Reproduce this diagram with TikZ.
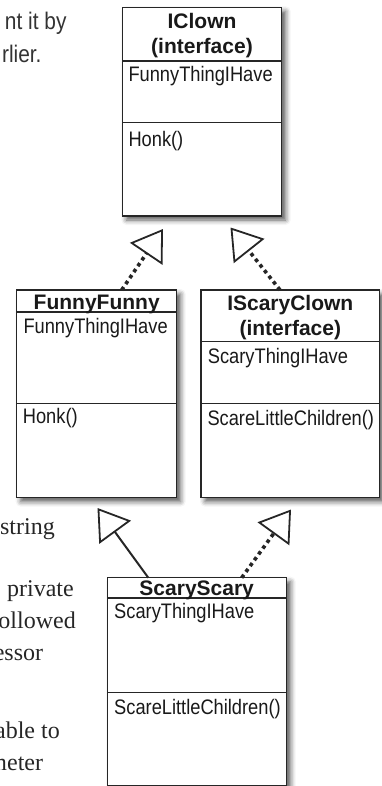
\documentclass[tikz,border=0pt]{standalone}
\usepackage{fontspec}
\setmainfont{Liberation Serif}
\newfontfamily\umlsans{Liberation Sans}
\newfontfamily\umlnarrow[FakeStretch=0.87]{Liberation Sans}
\usetikzlibrary{arrows.meta,shadows.blur}

\begin{document}
\begin{tikzpicture}[x=1pt, y=-1pt,
  umlbox/.style={rectangle, draw=black!85, line width=1.2pt, fill=white,
             anchor=north west, inner sep=0pt, outer sep=0pt,
             blur shadow={shadow xshift=4pt, shadow yshift=-4pt,
                          shadow blur radius=5pt, shadow opacity=65}},
  divline/.style={draw=black!85, line width=1.3pt},
  ttldiv/.style={draw=black!85, line width=1.7pt},
  ttl/.style={font=\umlsans\bfseries\fontsize{21}{25}\selectfont, align=center,
             inner sep=0pt, text=black!90},
  mbr/.style={font=\umlnarrow\fontsize{21}{24}\selectfont, anchor=base west,
             inner sep=0pt, text=black!90},
  sansfrag/.style={font=\umlnarrow\fontsize{24}{30}\selectfont, anchor=base east,
             inner sep=0pt, text=black!80},
  seriffrag/.style={font=\fontsize{24}{31}\selectfont, anchor=base east,
             inner sep=0pt, text=black!85},
  realize/.style={line width=3.6pt, black!85, dash pattern=on 3.6pt off 3.6pt,
             -{Triangle[open, length=30pt, width=39pt, line width=1.8pt]}},
  inherit/.style={line width=2pt, black!85,
             -{Triangle[open, length=30pt, width=39pt, line width=1.8pt]}},
]
\useasboundingbox (0,0) rectangle (381,786);

% text cut off at the page edge
\node[sansfrag] (txtby)    at (66.7,29.3)  {nt it by};
\node[sansfrag] (txtlier)  at (41.7,62.7)  {rlier.};
\node[seriffrag] (txtstr)  at (55,534)     {string};
\node[seriffrag] (txtpriv) at (74,596.7)   {private};
\node[seriffrag] (txtfoll) at (76,628.3)   {ollowed};
\node[seriffrag] (txtess)  at (43.3,660)   {essor};
\node[seriffrag] (txtable) at (60,738.3)   {able to};
\node[seriffrag] (txtmet)  at (43.3,770)   {meter};

% class boxes
\node[umlbox, minimum width=159.4pt, minimum height=208.7pt] (iclown) at (122.3,7.3)  {};
\node[umlbox, minimum width=160pt,   minimum height=207.7pt] (funny)  at (16.7,290)   {};
\node[umlbox, minimum width=178.3pt, minimum height=207.7pt] (iscary) at (201,290)    {};
\node[umlbox, minimum width=179.4pt, minimum height=208pt]   (scary)  at (107.3,577.7) {};

% compartments
\draw[divline] (iclown.west |- 0,61)    -- (iclown.east |- 0,61);
\draw[divline] (iclown.west |- 0,122.7) -- (iclown.east |- 0,122.7);
\draw[ttldiv]  (funny.west |- 0,311.7)  -- (funny.east |- 0,311.7);
\draw[divline] (funny.west |- 0,403.3)  -- (funny.east |- 0,403.3);
\draw[divline] (iscary.west |- 0,341.7) -- (iscary.east |- 0,341.7);
\draw[divline] (iscary.west |- 0,403.3) -- (iscary.east |- 0,403.3);
\draw[ttldiv]  (scary.west |- 0,598.3)  -- (scary.east |- 0,598.3);
\draw[divline] (scary.west |- 0,692.3)  -- (scary.east |- 0,692.3);

% titles
\node[ttl, anchor=north] (iclownttl) at (202,13)      {IClown\\(interface)};
\node[ttl, anchor=base]  (funnyttl)  at (96.7,309.3)  {FunnyFunny};
\node[ttl, anchor=north] (iscaryttl) at (290.3,294.7) {IScaryClown\\(interface)};
\node[ttl, anchor=base]  (scaryttl)  at (196.7,595.7) {ScaryScary};

% members
\node[mbr] (iclownattr) at (128.3,81.7)  {FunnyThingIHave};
\node[mbr] (iclownmeth) at (128.3,146.7) {Honk()};
\node[mbr] (funnyattr)  at (23.3,333.3)  {FunnyThingIHave};
\node[mbr] (funnymeth)  at (22.7,423.3)  {Honk()};
\node[mbr] (iscaryattr) at (207.7,363.3) {ScaryThingIHave};
\node[mbr] (iscarymeth) at (207.3,425)   {ScareLittleChildren()};
\node[mbr] (scaryattr)  at (114,618.3)   {ScaryThingIHave};
\node[mbr] (scarymeth)  at (114,714.3)   {ScareLittleChildren()};

% arrow tips
\coordinate (tipfunny)  at (163,229);
\coordinate (tipiscary) at (230.5,227.5);
\coordinate (tipinh)    at (97.5,508);
\coordinate (tipreal)   at (291,509.5);

\draw[realize] (121.7,0 |- funny.north)  -- (tipfunny);
\draw[realize] (280,0 |- iscary.north)   -- (tipiscary);
\draw[inherit] (148.3,0 |- scary.north)  -- (tipinh);
\draw[realize] (241.7,0 |- scary.north)  -- (tipreal);
\end{tikzpicture}
\end{document}
